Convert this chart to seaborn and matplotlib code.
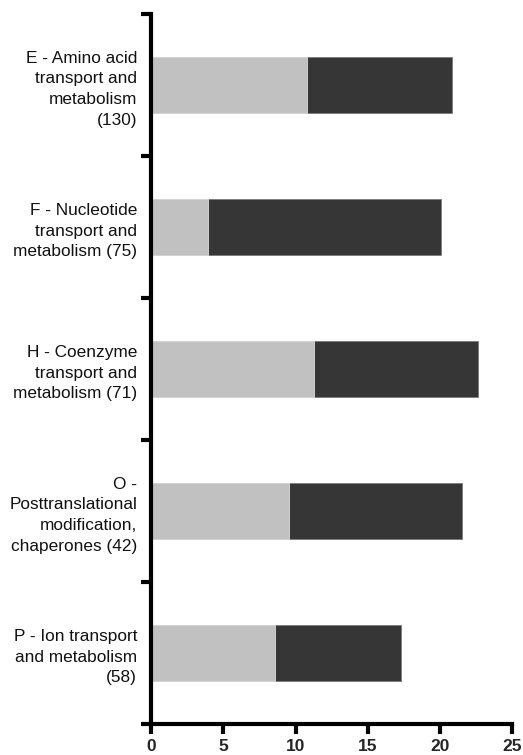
import matplotlib
matplotlib.use("Agg")
import matplotlib.pyplot as plt
import seaborn as sns
import pandas as pd
import numpy as np

categories = [
    "E - Amino acid\ntransport and\nmetabolism\n(130)",
    "F - Nucleotide\ntransport and\nmetabolism (75)",
    "H - Coenzyme\ntransport and\nmetabolism (71)",
    "O -\nPosttranslational\nmodification,\nchaperones (42)",
    "P - Ion transport\nand metabolism\n(58)",
]
light_values = [10.77, 3.97, 11.28, 9.55, 8.6]
dark_values = [10.08, 16.08, 11.35, 11.97, 8.7]
x_ticks = [0, 5, 10, 15, 20, 25]

light_color = "#c1c1c1"
dark_color = "#363636"

sns.set_theme(style="ticks")
plt.rcParams["font.family"] = ["Liberation Sans", "DejaVu Sans"]

df = pd.DataFrame({
    "category": categories,
    "light": light_values,
    "dark": dark_values,
})
df["total"] = df["light"] + df["dark"]

fig = plt.figure(figsize=(5.23, 7.55), dpi=100)
ax = fig.add_axes([0.2887, 0.0411, 0.6909, 0.9404])

sns.barplot(data=df, y="category", x="total", color=dark_color, orient="h",
            width=0.4, ax=ax, saturation=1, edgecolor="#7a7a7a", linewidth=0.6)
sns.barplot(data=df, y="category", x="light", color=light_color, orient="h",
            width=0.4, ax=ax, saturation=1, edgecolor="#dddddd", linewidth=0.6)

ax.set_xlim(0, 25)
ax.set_ylim(len(categories) - 0.5, -0.5)
ax.set_xticks(x_ticks)
ax.set_xticklabels([str(t) for t in x_ticks], fontsize=12.5, fontweight="bold")
ax.set_xlabel("")
ax.set_ylabel("")

ax.set_yticks(range(len(categories)))
ax.set_yticklabels(categories, fontsize=12.4, ha="right", multialignment="right",
                   linespacing=1.47, color="#111111")
ax.tick_params(axis="y", which="major", length=0, pad=10)
ax.set_yticks(np.arange(-0.5, len(categories), 1.0), minor=True)
ax.tick_params(axis="y", which="minor", length=7, width=3, color="black")
ax.tick_params(axis="x", which="major", length=7, width=3, color="black", pad=4)

for side in ["top", "right"]:
    ax.spines[side].set_visible(False)
for side in ["left", "bottom"]:
    ax.spines[side].set_linewidth(3)
    ax.spines[side].set_color("black")

fig.savefig("out.png", dpi=100)
